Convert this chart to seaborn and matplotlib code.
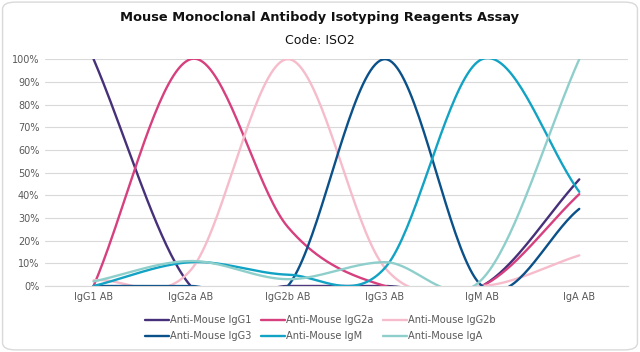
import numpy as np
import pandas as pd
import matplotlib.pyplot as plt
import seaborn as sns
from matplotlib.patches import FancyBboxPatch
from matplotlib.ticker import PercentFormatter

categories = ["IgG1 AB", "IgG2a AB", "IgG2b AB", "IgG3 AB", "IgM AB", "IgA AB"]
series_names = [
    "Anti-Mouse IgG1",
    "Anti-Mouse IgG2a",
    "Anti-Mouse IgG2b",
    "Anti-Mouse IgG3",
    "Anti-Mouse IgM",
    "Anti-Mouse IgA",
]

# percentages
igg1 = [100, 0, 0, 0, 0, 47]
igg2a = [0, 100, 26, 0, 0, 40.5]
igg2b = [2.5, 7, 100, 8, 0, 13.5]
igg3 = [0, 0, 0, 100, 0, 34]
igm = [0, 10.5, 5, 8, 100, 41.5]
iga = [2, 11, 3, 10.5, 3, 100]

colors = ["#46307a", "#d6407e", "#f6bccb", "#0a5089", "#12a3c4", "#8fcfcb"]


def smooth(values, n=40):
    # Excel-like smoothed line (Catmull-Rom, reflected end points)
    y = np.asarray(values, dtype=float)
    pad = np.concatenate([[2 * y[0] - y[1]], y, [2 * y[-1] - y[-2]]])
    m = (pad[2:] - pad[:-2]) / 2
    xs, ys = [], []
    for i in range(len(y) - 1):
        t = np.linspace(0, 1, n, endpoint=(i == len(y) - 2))
        h00 = 2 * t**3 - 3 * t**2 + 1
        h10 = t**3 - 2 * t**2 + t
        h01 = -2 * t**3 + 3 * t**2
        h11 = t**3 - t**2
        ys.append(h00 * y[i] + h10 * m[i] + h01 * y[i + 1] + h11 * m[i + 1])
        xs.append(i + t)
    return np.concatenate(xs), np.concatenate(ys)


frames = []
for name, vals in zip(series_names, [igg1, igg2a, igg2b, igg3, igm, iga]):
    x, y = smooth(vals)
    frames.append(pd.DataFrame({"x": x, "y": y, "series": name}))
df = pd.concat(frames, ignore_index=True)

sns.set_style("white")
plt.rcParams["font.family"] = ["DejaVu Sans"]

fig = plt.figure(figsize=(6.4, 3.52), dpi=100)
ax = fig.add_axes([0.0703, 0.1875, 0.9107, 0.6445])

sns.lineplot(
    data=df,
    x="x",
    y="y",
    hue="series",
    hue_order=series_names,
    palette=colors,
    sort=False,
    estimator=None,
    linewidth=1.7,
    ax=ax,
)

ax.set_xlim(-0.5, 5.5)
ax.set_ylim(0, 100)
ax.set_xticks(range(len(categories)))
ax.set_xticklabels(categories)
ax.set_yticks(range(0, 101, 10))
ax.yaxis.set_major_formatter(PercentFormatter(100, decimals=0))
ax.tick_params(axis="both", length=0, labelsize=7, labelcolor="#595959", pad=4)
ax.grid(axis="y", color="#d9d9d9", linewidth=0.8)
ax.set_axisbelow(True)
ax.set_xlabel("")
ax.set_ylabel("")
for side in ["left", "right", "top"]:
    ax.spines[side].set_visible(False)
ax.spines["bottom"].set_color("#d9d9d9")

handles, labels = ax.get_legend_handles_labels()
order = [0, 3, 1, 4, 2, 5]
ax.legend(
    [handles[i] for i in order],
    [labels[i] for i in order],
    loc="center",
    bbox_to_anchor=(0.5, 0.067),
    bbox_transform=fig.transFigure,
    ncol=3,
    frameon=False,
    fontsize=7.1,
    labelcolor="#595959",
    handlelength=2.4,
    handletextpad=0.1,
    columnspacing=1.0,
    labelspacing=0.6,
)

fig.text(0.5, 0.949, "Mouse Monoclonal Antibody Isotyping Reagents Assay",
         ha="center", va="center", fontsize=9.4, fontweight="bold", color="#111111")
fig.text(0.5, 0.886, "Code: ISO2", ha="center", va="center", fontsize=9, color="#111111")

border = FancyBboxPatch((0.004, 0.006), 0.992, 0.988, boxstyle="round,pad=0,rounding_size=0.02",
                        transform=fig.transFigure, fill=False, edgecolor="#d9d9d9", linewidth=1)
fig.patches.append(border)

fig.savefig("out.png", dpi=100)
